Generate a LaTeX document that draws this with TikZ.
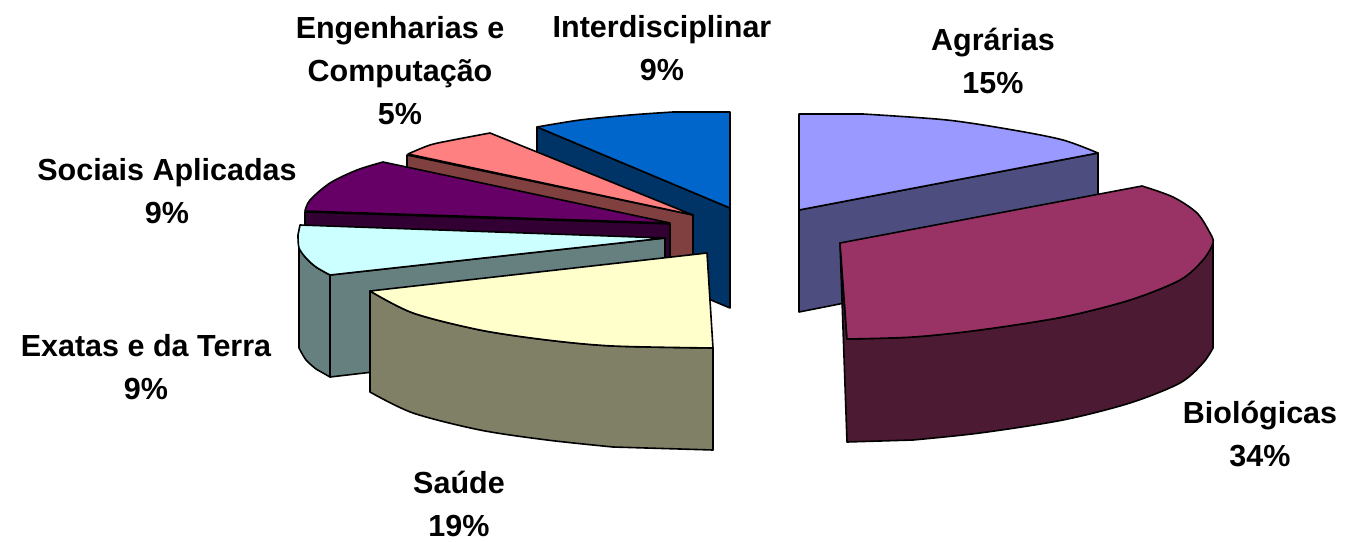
\documentclass[tikz,border=0pt]{standalone}
\usepackage{fontspec}
\setmainfont{Liberation Sans}
\definecolor{intT}{HTML}{0066CC}\definecolor{intS}{HTML}{003366}
\definecolor{engT}{HTML}{FF8080}\definecolor{engS}{HTML}{804040}
\definecolor{socT}{HTML}{660066}\definecolor{socS}{HTML}{330033}
\definecolor{exaT}{HTML}{CCFFFF}\definecolor{exaS}{HTML}{668080}
\definecolor{sauT}{HTML}{FFFFCC}\definecolor{sauS}{HTML}{808066}
\definecolor{agrT}{HTML}{9999FF}\definecolor{agrS}{HTML}{4D4D80}
\definecolor{bioT}{HTML}{993366}\definecolor{bioS}{HTML}{4D1A33}
\begin{document}
\begin{tikzpicture}[x=1pt,y=-1pt,line join=round,line width=1.6pt,
  face/.style={draw=black,fill=#1},
  lbl/.style={font=\bfseries\fontsize{30.5}{43}\selectfont,align=center,inner sep=0pt}]
\useasboundingbox (0,0) rectangle (1347,541);
% Interdisciplinar
\draw[face=intS] (537,127) -- (730,208) -- (730,308) -- (537,227) -- cycle;
\draw[face=intT] plot[smooth] coordinates {(537,127)(580,120)(630,115)(673,112)} -- (730,112) -- (730,208) -- cycle;
% Engenharias
\draw[face=engS] (407,155) -- (693,215) -- (693,315) -- (407,255) -- cycle;
\draw[face=engT] plot[smooth] coordinates {(408,154)(430,145)(453,140)(490,133)} -- (693,215) -- cycle;
% Sociais
\draw[face=socS] (305,212) -- (670,224) -- (670,324) -- (305,312) -- cycle;
\draw[face=socT] plot[smooth] coordinates {(305,211)(310,200)(330,183)(357,170)(383,162)} -- (670,223) -- cycle;
% Exatas
\draw[face=exaS] plot[smooth] coordinates {(299,248)(306,258)(316,267)(330,275)} -- (330,377) -- plot[smooth] coordinates {(316,369)(306,360)(299,348)} -- cycle;
\draw[face=exaS] (330,275) -- (665,238) -- (665,338) -- (330,377) -- cycle;
\draw[face=exaT] (300,225) -- (665,238) -- plot[smooth] coordinates {(330,275)(316,267)(306,258)(299,248)(298,235)} -- cycle;
% Saude
\draw[face=sauS] plot[smooth] coordinates {(370,291)(413,313)(480,330)(547,340)(613,346)(713,348)} -- (713,450) -- plot[smooth] coordinates {(613,447)(547,440)(480,430)(413,413)(370,392)} -- cycle;
\draw[face=sauT] (370,291) -- (707,253) -- plot[smooth] coordinates {(713,348)(613,346)(547,340)(480,330)(413,313)(370,291)} -- cycle;
% Agrarias
\draw[face=agrS] (799,210) -- (1098,153) -- (1098,253) -- (799,312) -- cycle;
\draw[face=agrT] (799,114) -- plot[smooth] coordinates {(863,114)(947,120)(1013,130)(1063,140)(1098,153)} -- (799,210) -- cycle;
% Biologicas
\draw[face=bioS] (840,243) -- (847,442) -- plot[smooth] coordinates {(913,440)(980,433)(1063,420)(1130,403)(1180,383)(1203,363)(1213,348)} -- (1213,243) -- plot[smooth] coordinates {(1203,260)(1180,280)(1130,300)(1063,317)(980,330)(913,337)(847,339)} -- cycle;
\draw[face=bioT] (840,243) -- plot[smooth] coordinates {(1142,186)(1173,197)(1197,213)(1210,233)(1213,243)(1203,260)(1180,280)(1130,300)(1063,317)(980,330)(913,337)(847,339)} -- cycle;
% labels
\node[lbl] (int) at (662,48) {Interdisciplinar\\9\%};
\node[lbl] (eng) at (400,71) {Engenharias e\\Computação\\5\%};
\node[lbl] (agr) at (993,61) {Agrárias\\15\%};
\node[lbl] (soc) at (167,191) {Sociais Aplicadas\\9\%};
\node[lbl] (exa) at (146,367) {Exatas e da Terra\\9\%};
\node[lbl] (bio) at (1260,434) {Biológicas\\34\%};
\node[lbl] (sau) at (459,504) {Saúde\\19\%};
\end{tikzpicture}
\end{document}
